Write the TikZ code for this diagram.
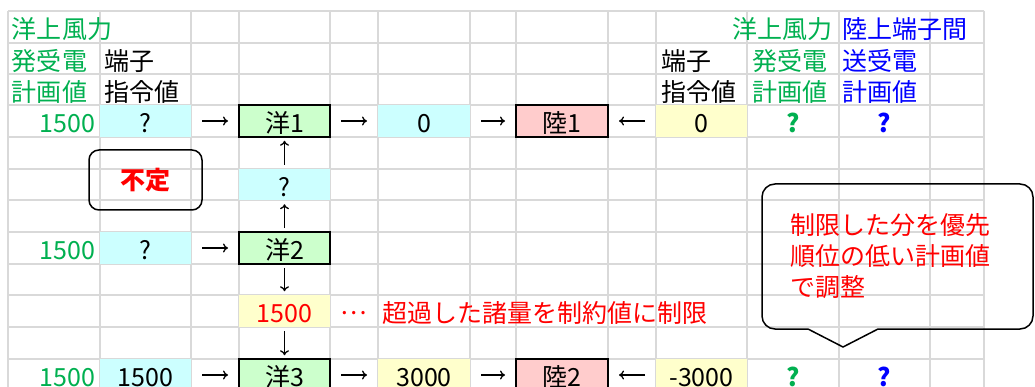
\documentclass[tikz,border=0pt]{standalone}
\usepackage{fontspec}
\setmainfont{Noto Sans CJK JP}
\usepackage{tikz}
\usetikzlibrary{arrows.meta, positioning}
\usepackage{xcolor}

\definecolor{gridgray}{RGB}{217,217,217}
\definecolor{plangreen}{RGB}{0,176,80}
\definecolor{planblue}{RGB}{0,0,255}
\definecolor{cmdcyan}{RGB}{204,255,255}
\definecolor{cmdyellow}{RGB}{255,255,204}
\definecolor{seagreen}{RGB}{204,255,204}
\definecolor{landpink}{RGB}{255,204,204}
\newcommand{\cellfont}{\fontsize{25pt}{31pt}\selectfont}

\begin{document}
\begin{tikzpicture}[x=1pt, y=-1pt, font=\cellfont,
  gridline/.style={gridgray, line width=1.6pt},
  txt/.style={inner sep=0pt, outer sep=0pt, text height=23.5pt, text depth=0pt},
  cell/.style={txt, minimum width=91pt, minimum height=31.5pt},
  cyancell/.style={cell, fill=cmdcyan},
  yellowcell/.style={cell, fill=cmdyellow},
  seabox/.style={cell, draw, line width=2pt, fill=seagreen},
  landbox/.style={cell, draw, line width=2pt, fill=landpink, minimum width=92pt},
  planmark/.style={cell, font=\fontsize{25pt}{31pt}\selectfont\bfseries},
  flow/.style={-{To[length=5pt,width=9pt]}, line width=1.3pt, shorten >=11pt, shorten <=11pt},
  vflow/.style={-{To[length=5pt,width=9pt]}, line width=1.3pt, shorten >=4pt, shorten <=4pt}]
\useasboundingbox[fill=white] (0,0) rectangle (1035,387);

\foreach \gx in {8,100,191,239,330,378,470,516,608,656,747,839,930,984}
  \draw[gridline] (\gx,11) -- (\gx,387);
\foreach \gy in {11,43,74,105,137,169,200,232,264,295,327,359}
  \draw[gridline] (8,\gy) -- (984,\gy);

\node[txt, plangreen, anchor=west] (hdA1) at (12,27) {洋上風力};
\node[txt, plangreen, anchor=west] (hdA2) at (12,58.5) {発受電};
\node[txt, plangreen, anchor=west] (hdA3) at (12,89.5) {計画値};
\node[txt, anchor=west] (hdB2) at (104,58.5) {端子};
\node[txt, anchor=west] (hdB3) at (104,89.5) {指令値};
\node[txt, anchor=west] (hdJ2) at (661,58.5) {端子};
\node[txt, anchor=west] (hdJ3) at (661,89.5) {指令値};
\node[txt, plangreen, anchor=east] (hdK1) at (832,27) {洋上風力};
\node[txt, plangreen, anchor=west] (hdK2) at (752,58.5) {発受電};
\node[txt, plangreen, anchor=west] (hdK3) at (752,89.5) {計画値};
\node[txt, planblue, anchor=west] (hdL1) at (842,27) {陸上端子間};
\node[txt, planblue, anchor=west] (hdL2) at (842,58.5) {送受電};
\node[txt, planblue, anchor=west] (hdL3) at (842,89.5) {計画値};

\node[txt, plangreen, anchor=east] (plan1) at (95,121) {1500};
\node[cyancell] (cmd1) at (145.5,121) {?};
\node[seabox] (sea1) at (284.5,121) {洋1};
\node[cyancell, minimum width=92pt] (flow1) at (424,121) {0};
\node[landbox] (land1) at (562,121) {陸1};
\node[yellowcell] (ref1) at (701.5,121) {0};
\node[planmark, plangreen] (gp1) at (793,121) {?};
\node[planmark, planblue] (bp1) at (884.5,121) {?};

\node[draw, line width=1.5pt, rounded corners=10pt, minimum width=113pt, minimum height=60pt,
  text=red, font=\cellfont\bfseries] (unset) at (145.5,180) {不定};
\node[cyancell] (midq) at (284.5,184.5) {?};

\node[txt, plangreen, anchor=east] (plan2) at (95,248) {1500};
\node[cyancell] (cmd2) at (145.5,248) {?};
\node[seabox] (sea2) at (284.5,248) {洋2};

\node[yellowcell, text=red] (cap) at (284.5,311) {1500};
\node[txt, red, yshift=8pt] (dots) at (354,311) {…};
\node[txt, red, anchor=west] (capnote) at (382,311) {超過した諸量を制約値に制限};

\node[txt, plangreen, anchor=east] (plan3) at (95,375) {1500};
\node[cyancell] (cmd3) at (145.5,375) {1500};
\node[seabox] (sea3) at (284.5,375) {洋3};
\node[yellowcell, minimum width=92pt] (flow3) at (424,375) {3000};
\node[landbox] (land2) at (562,375) {陸2};
\node[yellowcell] (ref3) at (701.5,375) {-3000};
\node[planmark, plangreen] (gp3) at (793,375) {?};
\node[planmark, planblue] (bp3) at (884.5,375) {?};

\draw[flow] (cmd1) -- (sea1);
\draw[flow] (sea1) -- (flow1);
\draw[flow] (flow1) -- (land1);
\draw[flow] (ref1) -- (land1);
\draw[vflow] (midq) -- (sea1);
\draw[vflow] (sea2) -- (midq);
\draw[flow] (cmd2) -- (sea2);
\draw[vflow] (sea2) -- (cap);
\draw[vflow] (cap) -- (sea3);
\draw[flow] (cmd3) -- (sea3);
\draw[flow] (sea3) -- (flow3);
\draw[flow] (flow3) -- (land2);
\draw[flow] (ref3) -- (land2);

\node[inner sep=0pt, text=red, anchor=west, align=left] (advice) at (790,256)
  {制限した分を優先\\順位の低い計画値\\で調整};
\coordinate (tip) at (843,347);
\draw[line width=1.5pt, rounded corners=13pt] (878,329) -- (1033,329) -- (1033,184)
  -- (762,184) -- (762,329) -- (808,329);
\draw[line width=1.5pt] (808,329) -- (tip) -- (878,329);
\end{tikzpicture}
\end{document}
